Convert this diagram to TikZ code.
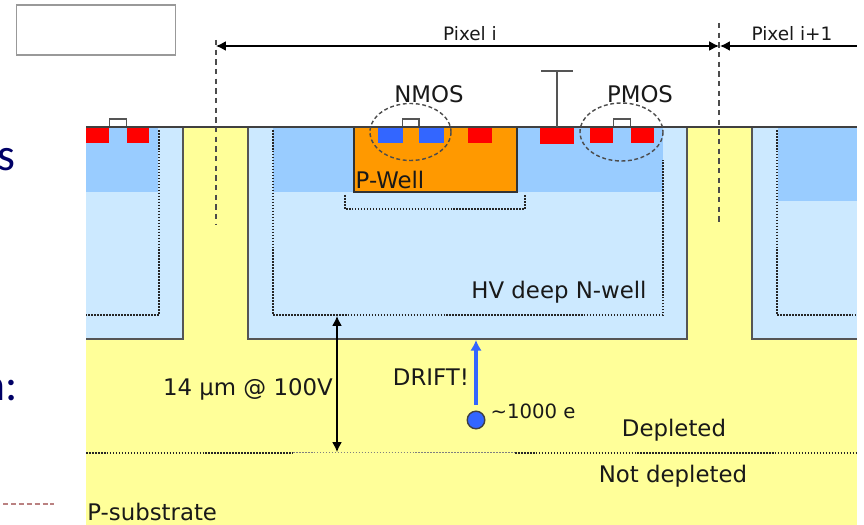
\documentclass[tikz,border=0pt]{standalone}
\usepackage{fontspec}
\usetikzlibrary{arrows.meta}
\setmainfont{DejaVu Sans}
\newfontfamily\slidefont{Carlito}
\definecolor{substrate}{HTML}{FFFF99}
\definecolor{nwell}{HTML}{CCE9FF}
\definecolor{shallow}{HTML}{99CCFF}
\definecolor{pwell}{HTML}{FF9900}
\definecolor{ndiff}{HTML}{3366FF}
\definecolor{pdiff}{HTML}{FF0000}
\definecolor{edge}{HTML}{555555}
\definecolor{slidetext}{HTML}{000066}
\tikzset{
  outline/.style={draw=edge,line width=0.9pt},
  dotline/.style={draw=black!85,line width=1.5pt,dash pattern=on 0.9pt off 0.8pt},
  pixeldash/.style={draw=black!70,line width=0.8pt,dash pattern=on 3pt off 2.5pt},
  bound/.style={draw=black!70,line width=0.8pt,dash pattern=on 2.2pt off 1.5pt},
  dimline/.style={<->,>={Latex[length=5.6pt,width=5.6pt]},draw=black,line width=0.8pt},
  gate/.style={draw=edge,fill=white,line width=0.9pt},
  label/.style={font=\fontsize{13}{15}\selectfont,text=black!90},
  small/.style={font=\fontsize{10.5}{12}\selectfont,text=black!90},
  slide/.style={font=\fontsize{26}{30}\slidefont,text=slidetext}
}
\begin{document}
\begin{tikzpicture}[x=0.2mm,y=-0.2mm]
  \clip (0,0) rectangle (864,525);
  % substrate and wells
  \fill [substrate] (86,127) rectangle (857,525);
  \fill [nwell] (86,127) rectangle (183,339);
  \fill [nwell] (248,127) rectangle (687,339);
  \fill [nwell] (752,127) rectangle (857,339);
  \fill [shallow] (86,127) rectangle (158,192);
  \fill [shallow] (273,127) rectangle (663,192);
  \fill [shallow] (778,127) rectangle (857,201);
  \draw [outline] (183,127)--(183,339)--(86,339);
  \draw [outline] (248,127)--(248,339)--(687,339)--(687,127);
  \draw [outline] (752,127)--(752,339)--(857,339);
  % P-well
  \fill [pwell] (354,127) rectangle (517,192);
  \draw [outline,draw=black!80] (354,127)--(354,192)--(517,192)--(517,127);
  % dotted limits of the space charge
  \draw [dotline] (159,130)--(159,315)--(86,315);
  \draw [dotline] (273,130)--(273,315)--(663,315)--(663,160);
  \draw [dotline] (777,130)--(777,315)--(857,315);
  \draw [dotline] (345,195)--(345,209)--(525,209)--(525,195);
  \draw [dotline] (86,453)--(293,453);
  \draw [dotline,line width=0.5pt,draw=black!50] (293,452)--(515,452);
  \draw [dotline] (515,453)--(857,453);
  % diffusions
  \fill [pdiff] (86,127) rectangle (109,143);
  \fill [pdiff] (127,127) rectangle (149,143);
  \fill [ndiff] (378,127) rectangle (403,143);
  \fill [ndiff] (419,127) rectangle (444,143);
  \fill [pdiff] (468,127) rectangle (492,143);
  \fill [pdiff] (540,127) rectangle (574,144);
  \fill [pdiff] (590,127) rectangle (613,143);
  \fill [pdiff] (631,127) rectangle (654,143);
  % gates
  \draw [gate] (109.5,127)--(109.5,119)--(126.5,119)--(126.5,127);
  \draw [gate] (402.5,127)--(402.5,119)--(419,119)--(419,127);
  \draw [gate] (613.5,127)--(613.5,119)--(630.5,119)--(630.5,127);
  % surface and contact
  \draw [outline,draw=black!75] (86,127)--(857,127);
  \draw [outline] (557,127)--(557,71);
  \draw [outline] (541,71)--(573,71);
  % transistors
  \draw [bound] (410.5,132) ellipse (40.5 and 28.5);
  \draw [bound] (621.5,132) ellipse (41.5 and 29);
  % pixel limits
  \draw [pixeldash] (216,40)--(216,225);
  \draw [pixeldash] (719,23)--(719,225);
  \coordinate (pixelleft) at (216,46);
  \coordinate (pixelright) at (719,46);
  \coordinate (nextleft) at (720,46);
  \coordinate (nextright) at (857,46);
  \draw [dimline] (pixelleft)--(pixelright);
  \draw [dimline,<-] (nextleft)--(nextright);
  % depletion depth and drift
  \coordinate (depthtop) at (337,316);
  \coordinate (depthbottom) at (337,452);
  \draw [dimline] (depthtop)--(depthbottom);
  \node (electron) [circle,draw=black!75,fill=ndiff,line width=0.8pt,minimum size=10pt,inner sep=0pt] at (476,420) {};
  \coordinate (drifttip) at (476,340);
  \draw [-{Latex[length=6pt,width=6.5pt]},draw=ndiff,line width=2pt] (476,405)--(drifttip);
  % labels
  \node (boxblank) [draw=black!40,fill=white,line width=0.8pt,minimum width=90.7pt,minimum height=28.3pt,inner sep=0pt] at (96,30) {};
  \node (pixeli) [small] at (470,34) {Pixel i};
  \node (pixelnext) [small] at (792,34) {Pixel i+1};
  \node (nmos) [label] at (429,94) {NMOS};
  \node (pmos) [label] at (640,94) {PMOS};
  \node (pwelltext) [label] at (390,180) {P-Well};
  \node (nwelltext) [label] at (559,292) {HV deep N-well};
  \node (depth) [label] at (248,389) {14 µm @ 100V};
  \node (drift) [label] at (431,377) {DRIFT!};
  \node (charge) [label,font=\fontsize{11.2}{13}\selectfont] at (533,411) {\textasciitilde 1000 e};
  \node (depleted) [label] at (674,430) {Depleted};
  \node (notdepleted) [label] at (673,476) {Not depleted};
  \node (substratetext) [label,anchor=west,inner sep=0pt] at (87,512) {P-substrate};
  % what is left of the slide behind it
  \node (slideone) [slide] at (6,160) {s};
  \node (slidetwo) [slide,anchor=east,inner sep=0pt] at (18,390) {n:};
  \draw [draw=red!45!black!70,line width=0.7pt,dash pattern=on 3pt off 1.5pt,opacity=0.7] (3,504)--(54,504);
\end{tikzpicture}
\end{document}
